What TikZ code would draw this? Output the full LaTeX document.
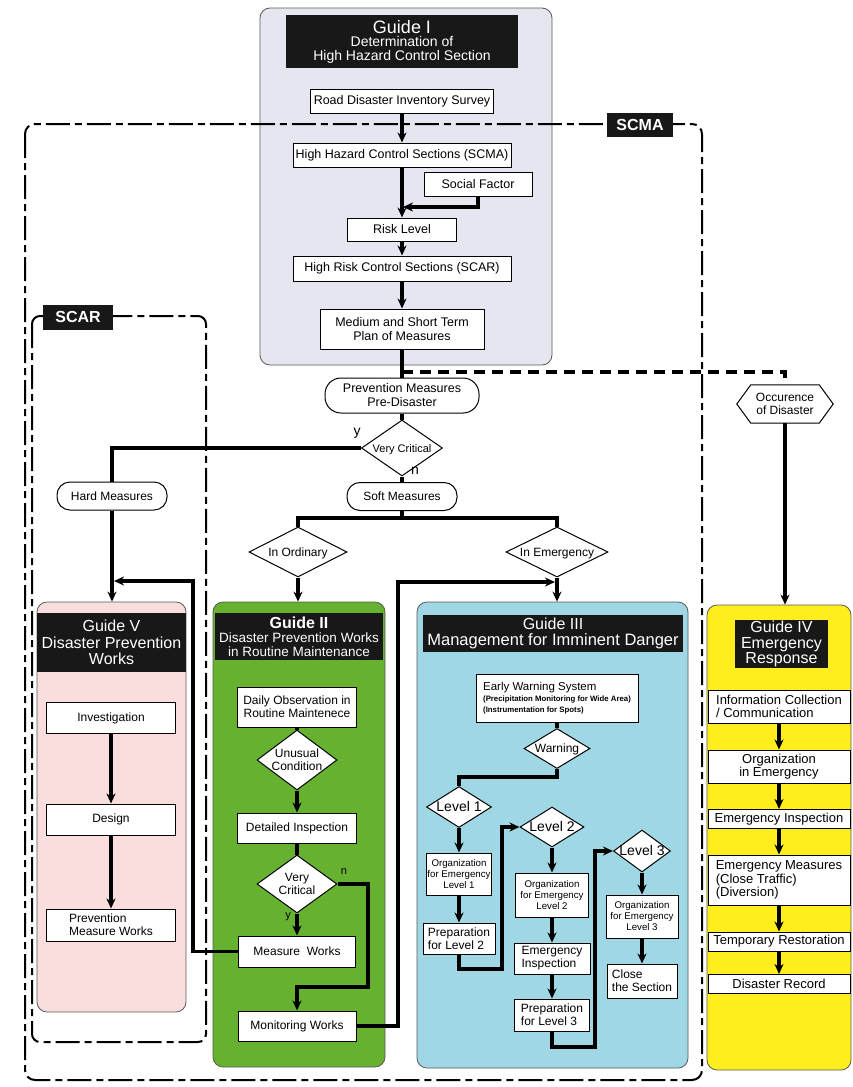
\documentclass[tikz,border=0pt]{standalone}
\usepackage{fontspec}
\setmainfont{Liberation Sans}
\usetikzlibrary{arrows.meta,shapes.geometric}
\definecolor{hdr}{RGB}{24,24,24}
\definecolor{gonecol}{RGB}{230,230,241}
\definecolor{gfivecol}{RGB}{250,221,221}
\definecolor{gtwocol}{RGB}{102,178,48}
\definecolor{gthreecol}{RGB}{160,215,228}
\definecolor{gfourcol}{RGB}{255,238,30}
\definecolor{panelline}{RGB}{90,90,90}
\newcommand{\fsz}[2]{\fontsize{#1}{#2}\selectfont}
\newcommand{\dtext}[1]{\smash{\makebox[0pt]{\raisebox{-0.4em}{\begin{tabular}{@{}c@{}}#1\end{tabular}}}}}
\begin{document}
\begin{tikzpicture}[x=1pt,y=-1pt,
  panel/.style={draw=panelline, line width=0.8pt, rounded corners=10pt, inner sep=0pt},
  header/.style={fill=hdr, text=white, inner sep=1pt, align=center},
  fbox/.style={draw=black, line width=1pt, fill=white, inner sep=1.5pt, align=center, font=\fsz{12}{13}},
  pill/.style={fbox, rounded corners=13pt},
  dmd/.style={diamond, draw=black, line width=1pt, fill=white, inner sep=0pt, font=\fsz{12}{13}},
  link/.style={line width=3.5pt, draw=black},
  conn/.style={link, -{Stealth[length=10pt,width=9pt]}},
  thickdash/.style={line width=3.5pt, dash pattern=on 11pt off 7pt},
  tag/.style={fill=hdr, text=white, font=\bfseries\fsz{16}{16}, inner sep=0pt},
  bound/.style={line width=2pt, rounded corners=10pt, dash pattern=on 24pt off 5pt on 7pt off 5pt},
  lbl/.style={inner sep=0pt, font=\fsz{14}{14}}
]
\fill[white] (0,0) rectangle (852,1087);
\useasboundingbox (0,0) rectangle (852,1087);

% ---------- Guide I panel ----------
\node[panel, fill=gonecol, minimum width=292, minimum height=357] (g1) at (406,186.5) {};

% ---------- boundaries ----------
\draw[bound] (25,124) rectangle (702,1080);
\draw[bound, rounded corners=8pt] (32,316) rectangle (206,1042);
\node[tag, minimum width=66, minimum height=24] (scmatag) at (640,125) {SCMA};
\node[tag, minimum width=70, minimum height=25] (scartag) at (78,317) {SCAR};

% ---------- other panels ----------
\node[panel, fill=gfivecol, minimum width=149, minimum height=410] (g5) at (111.5,807) {};
\node[panel, fill=gtwocol, minimum width=172, minimum height=465] (g2) at (299,834.5) {};
\node[panel, fill=gthreecol, minimum width=271, minimum height=466] (g3) at (552.5,835) {};
\node[panel, fill=gfourcol, minimum width=144, minimum height=465] (g4) at (779,837.5) {};

% ---------- headers ----------
\node[header, font=\fsz{14}{13.5}, minimum width=232, minimum height=53] (h1) at (402,41.5)
  {{\fsz{18}{18}Guide I}\\Determination of\\High Hazard Control Section};
\node[header, font=\fsz{16}{16.5}, minimum width=149, minimum height=59] (h5) at (111.5,642.5)
  {Guide V\\Disaster Prevention\\Works};
\node[header, font=\fsz{13.5}{14}, minimum width=168, minimum height=47] (h2) at (299,636.5)
  {{\bfseries\fsz{16}{16}Guide II}\\Disaster Prevention Works\\in Routine Maintenance};
\node[header, font=\fsz{16.5}{16}, minimum width=260, minimum height=37] (h3) at (553,633.5)
  {{\fsz{16}{16}Guide III}\\Management for Imminent Danger};
\node[header, font=\fsz{16}{15.5}, minimum width=93, minimum height=48] (h4) at (781.5,644)
  {Guide IV\\Emergency\\Response};

% ---------- Guide I boxes ----------
\node[fbox, font=\fsz{12.5}{14}, minimum width=183, minimum height=24] (road) at (402,101) {Road Disaster Inventory Survey};
\node[fbox, font=\fsz{12.5}{14}, minimum width=218, minimum height=24] (scmabox) at (402,155) {High Hazard Control Sections (SCMA)};
\node[fbox, font=\fsz{12.5}{14}, minimum width=108, minimum height=24] (social) at (478,184) {Social Factor};
\node[fbox, font=\fsz{12.5}{14}, minimum width=109, minimum height=23] (risk) at (402,229.5) {Risk Level};
\node[fbox, font=\fsz{12.5}{14}, minimum width=218, minimum height=25] (scarbox) at (402,268.5) {High Risk Control Sections (SCAR)};
\node[fbox, font=\fsz{12.5}{14}, minimum width=164, minimum height=40] (medium) at (402,329) {Medium and Short Term\\Plan of Measures};
\coordinate (sfj) at (403,207);
\draw[conn] (road) -- (scmabox);
\draw[conn] (social.south) |- (sfj);
\draw[conn] (scmabox) -- (risk);
\draw[conn] (risk) -- (scarbox);
\draw[conn] (scarbox) -- (medium);

% ---------- decision area ----------
\node[pill, font=\fsz{12.5}{14}, rounded corners=16pt, minimum width=154, minimum height=35] (prev) at (402,395.5) {Prevention Measures\\Pre-Disaster};
\draw[link] (medium) -- (prev);

\node[minimum width=96, minimum height=38, inner sep=0pt] (occ) at (785,404) {};
\coordinate (dj) at (402,372);
\draw[thickdash] (dj) -| (occ.north);
\draw[line width=1pt, fill=white] (occ.west) -- ([xshift=14pt]occ.north west) -- ([xshift=-14pt]occ.north east) -- (occ.east) -- ([xshift=-14pt]occ.south east) -- ([xshift=14pt]occ.south west) -- cycle;
\node[font=\fsz{12}{12.5}, align=center, inner sep=0pt] (occtext) at (occ) {Occurence\\of Disaster};
\draw[conn] (occ.south) -- (occ.south |- g4.north);

\node[dmd, font=\fsz{11}{12}, minimum width=81, minimum height=56] (vc) at (402,448) {\dtext{Very Critical}};
\draw[link] (prev) -- (vc);
\node[lbl] (ylab) at (357,433) {y};
\node[lbl] (nlab) at (415,471) {n};

\node[pill, minimum width=110, minimum height=28] (hard) at (112,496) {Hard Measures};
\draw[link] (vc.west) -| (hard.north);
\draw[conn] (hard.south) -- (hard.south |- g5.north);

\node[pill, minimum width=110, minimum height=28] (soft) at (402,496.5) {Soft Measures};
\draw[link] (vc.south) -- (soft.north);
\coordinate (sb) at (402,518);
\draw[link] (soft.south) -- (sb);

\node[dmd, minimum width=98, minimum height=50] (ord) at (298,552) {\dtext{In Ordinary}};
\node[dmd, minimum width=102, minimum height=50] (emg) at (557,552) {\dtext{In Emergency}};
\draw[link] (ord.north) |- (sb) -| (emg.north);
\draw[conn] (ord.south) -- (ord.south |- g2.north);
\draw[conn] (emg.south) -- (emg.south |- g3.north);

% ---------- Guide V ----------
\node[fbox, minimum width=129, minimum height=31] (inv) at (111,718) {Investigation};
\node[fbox, minimum width=129, minimum height=31] (design) at (111,819.5) {Design};
\node[fbox, align=left, minimum width=129, minimum height=32] (pmw) at (111,925) {Prevention\\Measure Works};
\draw[conn] (inv) -- (design);
\draw[conn] (design) -- (pmw);

% ---------- Guide II ----------
\node[fbox, minimum width=119, minimum height=40] (daily) at (297,707) {Daily Observation in\\Routine Maintenece};
\node[dmd, minimum width=80, minimum height=60] (unus) at (297,760) {\dtext{Unusual\\Condition}};
\node[fbox, minimum width=119, minimum height=30] (detail) at (297,828) {Detailed Inspection};
\node[dmd, minimum width=80, minimum height=58] (vctwo) at (297,884) {\dtext{Very\\Critical}};
\node[fbox, minimum width=117, minimum height=31] (meas) at (297,951.5) {Measure\ \ Works};
\node[fbox, minimum width=118, minimum height=30] (mon) at (297,1026) {Monitoring Works};
\node[lbl, font=\fsz{11}{11}] (ntwo) at (344,872) {n};
\node[lbl, font=\fsz{11}{11}] (ytwo) at (288,917) {y};
\draw[link] (daily) -- (unus);
\draw[conn] (unus) -- (detail);
\draw[link] (detail) -- (vctwo);
\draw[conn] (vctwo) -- (meas);
\coordinate (vcr) at (368,987);
\draw[conn] (vctwo.east) -| (vcr) -| (mon.north);

\coordinate (mwa) at (193,581);
\coordinate (mwb) at (114,581);
\draw[conn] (meas.west) -| (mwa) -- (mwb);
\coordinate (mja) at (398,582);
\coordinate (mjb) at (555,582);
\draw[conn] (mon.east) -| (mja) -- (mjb);

% ---------- Guide III ----------
\node[fbox, font=\fsz{11.5}{11}, minimum width=162, minimum height=48, align=left] (ews) at (557,698)
  {Early Warning System\\{\bfseries\fsz{7.8}{9}(Precipitation Monitoring for Wide Area)}\\{\bfseries\fsz{7.8}{9}(Instrumentation for Spots)}};
\node[dmd, minimum width=66, minimum height=40] (warn) at (557,748.5) {\dtext{Warning}};
\draw[link] (ews) -- (warn);
\node[dmd, font=\fsz{14}{14}, minimum width=65, minimum height=41] (lvone) at (459,807) {\dtext{Level 1}};
\node[dmd, font=\fsz{14}{14}, minimum width=64, minimum height=40] (lvtwo) at (552,827) {\dtext{Level 2}};
\node[dmd, font=\fsz{14}{14}, minimum width=57, minimum height=42] (lvthree) at (642,851) {\dtext{Level 3}};
\coordinate (wj) at (459,777);
\draw[link] (warn.south) |- (wj) -- (lvone.north);

\node[fbox, font=\fsz{9.7}{11}, inner xsep=0.5pt, minimum width=64, minimum height=42] (orgone) at (459,874) {Organization\\for Emergency\\Level 1};
\node[fbox, align=left, minimum width=72, minimum height=31] (preptwo) at (459,938.5) {Preparation\\for Level 2};
\draw[conn] (lvone) -- (orgone);
\draw[conn] (orgone) -- (preptwo);
\coordinate (ptb) at (502,969);
\draw[conn] (preptwo.south) |- (ptb) |- (lvtwo.west);

\node[fbox, font=\fsz{9.7}{11}, inner xsep=0.5pt, minimum width=73, minimum height=44] (orgtwo) at (552,895) {Organization\\for Emergency\\Level 2};
\node[fbox, align=left, minimum width=76, minimum height=31] (emi) at (552,958.5) {Emergency\\Inspection};
\node[fbox, align=left, minimum width=75, minimum height=32] (prepthree) at (552,1015) {Preparation\\for Level 3};
\draw[conn] (lvtwo) -- (orgtwo);
\draw[conn] (orgtwo) -- (emi);
\draw[conn] (emi) -- (prepthree);
\coordinate (pthb) at (595,1047);
\draw[conn] (prepthree.south) |- (pthb) |- (lvthree.west);

\node[fbox, font=\fsz{9.7}{11}, inner xsep=0.5pt, minimum width=72, minimum height=43] (orgthree) at (642,916.5) {Organization\\for Emergency\\Level 3};
\node[fbox, align=left, minimum width=70, minimum height=34] (close) at (642,981) {Close\\the Section};
\draw[conn] (lvthree) -- (orgthree);
\draw[conn] (orgthree) -- (close);

% ---------- Guide IV ----------
\node[fbox, font=\fsz{13}{13.5}, inner sep=1pt, align=left, minimum width=142, minimum height=33] (info) at (779,706.5) {Information Collection\\/ Communication};
\node[fbox, font=\fsz{13}{13.5}, inner sep=1pt, minimum width=142, minimum height=33] (orge) at (779,766.5) {Organization\\in Emergency};
\node[fbox, font=\fsz{13}{13.5}, inner sep=1pt, minimum width=142, minimum height=19] (einsp) at (779,819) {Emergency Inspection};
\node[fbox, font=\fsz{13}{13.5}, inner sep=1pt, align=left, minimum width=142, minimum height=50] (emeas) at (779,880) {Emergency Measures\\(Close Traffic)\\(Diversion)};
\node[fbox, font=\fsz{13}{13.5}, inner sep=1pt, minimum width=142, minimum height=19] (temp) at (779,941.5) {Temporary Restoration};
\node[fbox, font=\fsz{13}{13.5}, inner sep=1pt, minimum width=142, minimum height=19] (drec) at (779,984) {Disaster Record};
\draw[conn] (info) -- (orge);
\draw[conn] (orge) -- (einsp);
\draw[conn] (einsp) -- (emeas);
\draw[conn] (emeas) -- (temp);
\draw[conn] (temp) -- (drec);
\end{tikzpicture}
\end{document}
